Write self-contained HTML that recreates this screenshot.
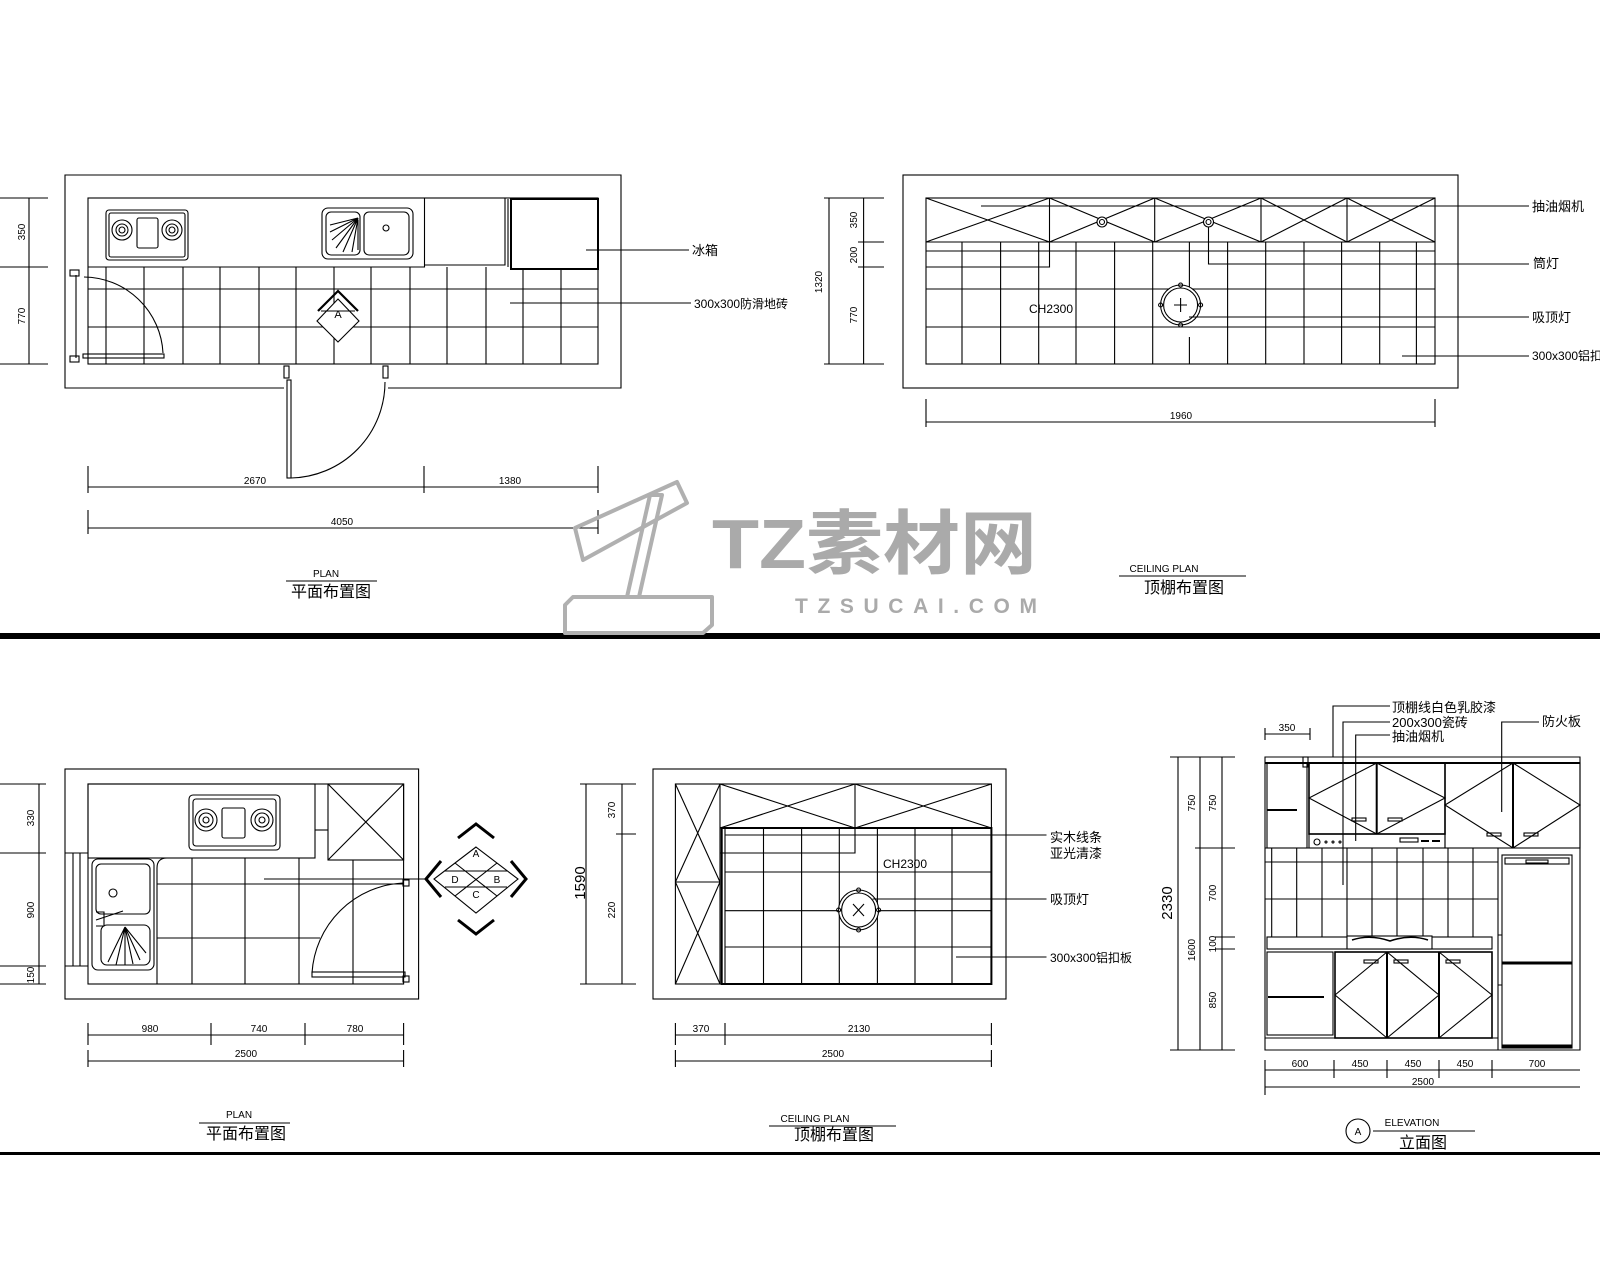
<!DOCTYPE html>
<html><head><meta charset="utf-8"><style>
html,body{margin:0;padding:0;background:#fff;}
svg{display:block;}
text{font-family:"Liberation Sans Narrow","Liberation Sans","Noto Sans CJK SC",sans-serif;fill:#000;}
.d{font-size:10px;}
.l{font-size:13px;}
</style></head><body>
<svg width="1600" height="1280" viewBox="0 0 1600 1280" xmlns="http://www.w3.org/2000/svg">
<g fill="none" stroke="#000" stroke-width="1.1">
<path d="M284,388 H65 V175 H621 V388 H388"/>
<rect x="88" y="198" width="510" height="166"/>
<path d="M88,267 H424.5 V198 M424.5,265 H505 V198"/>
<rect x="511" y="199" width="87" height="70" stroke-width="2"/>
<line x1="508" y1="199" x2="508" y2="267"/>
<g>
<line x1="106" y1="267" x2="106" y2="364"/><line x1="144" y1="267" x2="144" y2="364"/><line x1="183" y1="267" x2="183" y2="364"/><line x1="220" y1="267" x2="220" y2="364"/><line x1="259" y1="267" x2="259" y2="364"/><line x1="296" y1="267" x2="296" y2="364"/><line x1="334" y1="267" x2="334" y2="364"/><line x1="371" y1="267" x2="371" y2="364"/><line x1="410" y1="267" x2="410" y2="364"/><line x1="447" y1="267" x2="447" y2="364"/><line x1="486" y1="267" x2="486" y2="364"/><line x1="523" y1="269" x2="523" y2="364"/><line x1="561" y1="269" x2="561" y2="364"/>
<line x1="88" y1="289" x2="598" y2="289"/><line x1="88" y1="327" x2="598" y2="327"/>
</g>
<rect x="106" y="210" width="82" height="50" rx="3" fill="#fff"/>
<rect x="109" y="213" width="76" height="44" rx="2"/>
<circle cx="122" cy="230" r="10" fill="#fff"/><circle cx="122" cy="230" r="6"/><circle cx="122" cy="230" r="3"/>
<circle cx="172" cy="230" r="10" fill="#fff"/><circle cx="172" cy="230" r="6"/><circle cx="172" cy="230" r="3"/>
<rect x="137" y="218" width="21" height="30" rx="2"/>
<rect x="322" y="208" width="91" height="51" rx="6" fill="#fff"/>
<rect x="326" y="212" width="34" height="43" rx="5"/>
<rect x="364" y="212" width="45" height="43" rx="5"/>
<circle cx="386" cy="228" r="3"/>
<path d="M358,218 L330,225 M358,218 L330,232 M358,218 L332,240 M358,218 L336,248 M358,218 L343,252 M358,218 L352,252 M358,220 L358,250"/>
<line x1="76" y1="275" x2="76" y2="358"/>
<rect x="83" y="354" width="81" height="4"/>
<path d="M84,277 A80,80 0 0 1 163,353"/>
<rect x="70" y="270" width="9" height="6"/><rect x="70" y="356" width="9" height="6"/>
<rect x="287" y="380" width="4" height="98"/>
<path d="M291,478 A96,96 0 0 0 385,382"/>
<rect x="284" y="366" width="5" height="12"/><rect x="383" y="366" width="5" height="12"/>
<path d="M338,299 L359,321 L338,342 L317,321 Z" fill="#fff"/>
<line x1="321" y1="311" x2="355" y2="311"/>
<path d="M318,311 L338,291 L358,311" stroke-width="2.2"/>
<path d="M29,198 V364 M0,198 H48 M0,267 H48 M0,364 H48"/>
<path d="M88,487 H598 M88,466 V493 M424,466 V493 M598,466 V493"/>
<path d="M88,528 H598 M88,510 V534 M598,510 V534"/>
<path d="M586,250 H689 M510,303 H691"/>
<line x1="286" y1="581" x2="377" y2="581"/>

<rect x="903" y="175" width="555" height="213"/>
<rect x="926" y="198" width="509" height="166"/>
<path d="M926,242 H1435 M926,251 H1435 M926,289 H1435 M926,327 H1435"/>
<path d="M1049.5,198 V242 M1154.7,198 V242 M1261,198 V242 M1347,198 V242"/>
<path d="M926,198 L1049.5,242 M926,242 L1049.5,198 M1049.5,198 L1154.7,242 M1049.5,242 L1154.7,198 M1154.7,198 L1261,242 M1154.7,242 L1261,198 M1261,198 L1347,242 M1261,242 L1347,198 M1347,198 L1435,242 M1347,242 L1435,198"/>
<path d="M962,242 V364 M1000.6,242 V364 M1038.7,242 V364 M1076,242 V364 M1114.6,242 V364 M1152.7,242 V364 M1189.4,242 V289 M1189.4,337 V364 M1227.6,242 V364 M1265.7,242 V364 M1304,242 V364 M1341.6,242 V364 M1379.7,242 V364 M1416.4,242 V364"/>
<path d="M1049.5,242 V267 H926"/>
<circle cx="1180.6" cy="305" r="20" fill="#fff"/><circle cx="1180.6" cy="305" r="17"/>
<path d="M1174,305 H1187 M1180.6,298 V312"/>
<circle cx="1180.6" cy="285" r="2"/><circle cx="1180.6" cy="325" r="2"/><circle cx="1160.6" cy="305" r="2"/><circle cx="1200.6" cy="305" r="2"/>
<circle cx="1102" cy="222" r="5" fill="#fff"/><circle cx="1102" cy="222" r="2.5"/>
<circle cx="1208.5" cy="222" r="5" fill="#fff"/><circle cx="1208.5" cy="222" r="2.5"/>
<path d="M981,206 H1529 M1208.5,227 V264 H1529 M1189,317 H1529 M1402,356 H1529"/>
<path d="M829,198 V364 M863.6,198 V364 M824,198 H884 M824,364 H884 M858,242 H884 M858,267 H884"/>
<path d="M926,422 H1435 M926,399 V427 M1435,399 V427"/>
<line x1="1119" y1="576" x2="1246" y2="576"/>

<rect x="65" y="769" width="353.6" height="230"/>
<rect x="88" y="784" width="315.6" height="200"/>
<rect x="88" y="784" width="227" height="74"/>
<path d="M315,830 H328"/>
<rect x="328" y="784" width="75.6" height="76"/>
<path d="M328,784 L403.6,860 M403.6,784 L328,860"/>
<path d="M65,853 H88 M65,966 H88 M73,853 V966 M80,853 V966"/>
<path d="M157,984 V868 Q157,858 167,858 H315"/>
<path d="M192,858 V984 M245,858 V984 M299,858 V984 M353,860 V984 M157,884 H403.6 M157,938 H320"/>
<rect x="189" y="795" width="91" height="55" rx="4" fill="#fff"/>
<rect x="193" y="799" width="83" height="47" rx="3"/>
<circle cx="206" cy="820" r="11" fill="#fff"/><circle cx="206" cy="820" r="7"/><circle cx="206" cy="820" r="3"/>
<circle cx="262" cy="820" r="11" fill="#fff"/><circle cx="262" cy="820" r="7"/><circle cx="262" cy="820" r="3"/>
<rect x="222" y="808" width="23" height="30" rx="2"/>
<rect x="92" y="859" width="62" height="111" rx="6" fill="#fff"/>
<rect x="96" y="864" width="54" height="50" rx="5"/>
<rect x="101" y="925" width="49" height="40" rx="6"/>
<circle cx="113" cy="893" r="4"/>
<path d="M96,920 L123,911 M96,912 H104 V926 H96"/>
<path d="M125,927 L108,962 M125,927 L116,965 M125,927 L125,965 M125,927 L133,964 M125,927 L140,960 M125,927 L146,953"/>
<rect x="312" y="972" width="93" height="5"/>
<path d="M312,973 A96,96 0 0 1 403,883"/>
<rect x="403" y="880" width="6" height="6"/><rect x="403" y="976" width="6" height="6"/>
<line x1="264" y1="879" x2="428" y2="879"/>
<path d="M476,847 L518,879 L476,913 L434,879 Z" fill="#fff"/>
<path d="M455,863 L497,896 M497,863 L455,896 M445,871 H507 M445,887 H507"/>
<path d="M458,838 L476,824 L494,838 M511,861 L526,879 L511,897 M494,920 L476,934 L458,920 M441,861 L426,879 L441,897" stroke-width="3"/>
<path d="M39,784 V984 M0,784 H46 M0,853 H46 M0,966 H46 M0,984 H46"/>
<path d="M88,1035 H403.6 M88,1023 V1045 M211,1023 V1045 M305,1023 V1045 M403.6,1023 V1045"/>
<path d="M88,1061 H403.6 M88,1050 V1067 M403.6,1050 V1067"/>
<line x1="199" y1="1123" x2="290" y2="1123"/>

<rect x="653" y="769" width="353" height="230"/>
<rect x="675.4" y="784" width="316" height="200"/>
<path d="M720,784 V984 M675.4,882 H720"/>
<path d="M675.4,784 L720,882 M720,784 L675.4,882 M675.4,882 L720,984 M720,882 L675.4,984"/>
<path d="M720,828 H991.4 M855,784 V828"/>
<path d="M720,784 L855,828 M720,828 L855,784 M855,784 L991.4,828 M855,828 L991.4,784"/>
<rect x="721.7" y="828" width="269.7" height="156" stroke-width="2"/>
<path d="M725,828 V984 M763.5,828 V984 M801.6,828 V984 M839.3,828 V984 M877.4,828 V984 M915,828 V984 M952,828 V984"/>
<path d="M725,835 H991 M725,872 H991 M725,910.7 H991 M725,947 H991"/>
<path d="M855,828 V853 H720"/>
<circle cx="858.6" cy="910" r="20" fill="#fff"/><circle cx="858.6" cy="910" r="17"/>
<path d="M853,904 L864,916 M864,904 L853,916"/>
<circle cx="858.6" cy="890" r="2"/><circle cx="858.6" cy="930" r="2"/><circle cx="838.6" cy="910" r="2"/><circle cx="878.6" cy="910" r="2"/>
<path d="M989,835 H1046.5 M872.6,899 H1046.5 M956,957 H1046.5"/>
<path d="M586,784 V984 M622,784 V984 M580,784 H636 M580,984 H636 M616,834 H636"/>
<path d="M675.4,1035 H991.4 M675.4,1023 V1045 M725,1023 V1045 M991.4,1023 V1045"/>
<path d="M675.4,1061 H991.4 M675.4,1050 V1067 M991.4,1050 V1067"/>
<line x1="769" y1="1126" x2="896" y2="1126"/>

<path d="M1265,757 H1580 V1050 H1265 Z"/>
<line x1="1265" y1="763" x2="1580" y2="763" stroke-width="2"/>
<rect x="1267" y="763" width="40" height="85"/>
<path d="M1267,810 H1297" stroke-width="2"/>
<rect x="1303" y="757" width="5" height="10"/>
<rect x="1309" y="763" width="136" height="71" stroke-width="1.6"/>
<line x1="1376.7" y1="763" x2="1376.7" y2="834" stroke-width="2"/>
<path d="M1376.7,763 L1445,798 L1376.7,834 L1309,798 Z"/>
<rect x="1309" y="834" width="136" height="14"/>
<circle cx="1317" cy="842" r="3"/><circle cx="1326" cy="842" r="1"/><circle cx="1333" cy="842" r="1"/><circle cx="1340" cy="842" r="1"/>
<rect x="1400" y="838" width="18" height="4"/><path d="M1421,841 H1429 M1432,841 H1440" stroke-width="2"/>
<rect x="1352" y="818" width="14" height="3"/><rect x="1388" y="818" width="14" height="3"/>
<rect x="1445" y="763" width="135" height="85"/>
<line x1="1513" y1="763" x2="1513" y2="848" stroke-width="2"/>
<path d="M1513,763 L1580,805 L1513,848 L1445,805 Z"/>
<rect x="1487" y="833" width="14" height="3"/><rect x="1524" y="833" width="14" height="3"/>
<path d="M1265,848 H1580"/>
<path d="M1271.7,848 V937 M1296.7,848 V937 M1322,848 V937 M1347,848 V937 M1372,848 V937 M1397,848 V937 M1423,848 V937 M1448,848 V937 M1473,848 V937 M1498,848 V1050"/>
<path d="M1265,862 H1498 M1265,899 H1498"/>
<rect x="1267" y="937" width="225" height="12"/>
<rect x="1347" y="936" width="85" height="13" fill="#fff"/>
<path d="M1352,940 Q1370,934 1390,941 Q1410,934 1428,940" stroke-width="1.5"/>
<rect x="1267" y="952" width="66" height="83"/>
<path d="M1268,997 H1324" stroke-width="2"/>
<rect x="1335" y="952" width="157" height="86" stroke-width="1.6"/>
<path d="M1387,952 V1038 M1439,952 V1038" stroke-width="2"/>
<path d="M1387,952 L1335,995 L1387,1038 M1387,952 L1439,995 L1387,1038 M1439,952 L1492,995 L1439,1038"/>
<rect x="1364" y="960" width="14" height="3"/><rect x="1394" y="960" width="14" height="3"/><rect x="1446" y="960" width="14" height="3"/>
<path d="M1265,1038 H1498"/>
<rect x="1502" y="855" width="70" height="193"/>
<path d="M1502,963 H1572" stroke-width="3"/>
<path d="M1502,1046 H1572" stroke-width="3"/>
<rect x="1505" y="858" width="64" height="6"/>
<rect x="1526" y="860" width="22" height="3"/>
<path d="M1498,935 H1502 M1498,985 H1502"/>
<path d="M1178,757 V1050 M1200,757 V1050 M1222,757 V1050 M1170,757 H1235 M1170,1050 H1235 M1195,848 H1235 M1215,937 H1235 M1215,949 H1235"/>
<path d="M1265,734 H1310 M1265,728 V740 M1310,728 V740"/>
<path d="M1265,1070 H1580 M1265,1060 V1078 M1334,1060 V1078 M1387,1060 V1078 M1439,1060 V1078 M1492,1060 V1078"/>
<path d="M1265,1087 H1580 M1265,1078 V1095"/>
<path d="M1333,757 V706 H1390 M1343,885 V722 H1390 M1355.7,841 V735 H1390 M1501.7,812 V722 H1539"/>
<circle cx="1358" cy="1131" r="12"/>
<line x1="1373" y1="1131" x2="1475" y2="1131"/>
</g>
<rect x="0" y="633" width="1600" height="6" fill="#000"/>
<rect x="0" y="1152" width="1600" height="3" fill="#000"/>

<g fill="none" stroke="#b0b0b0" stroke-width="4" stroke-linejoin="round">
<path d="M565,605 L573,597 L712,597 L712,625 L703,633 L565,633 Z"/>
<path d="M627,597 L650,495 L662,495 L639,597"/>
<path d="M575,528 L677,482 L687,503 L583,560 Z"/>
</g>
<text x="712" y="568" textLength="325" lengthAdjust="spacingAndGlyphs" style="font-family:'Liberation Sans','Noto Sans CJK SC',sans-serif;font-size:70px;font-weight:bold;fill:#aaa">TZ素材网</text>
<text x="795" y="613" textLength="242" lengthAdjust="spacing" style="font-family:'Liberation Sans',sans-serif;font-size:21px;font-weight:bold;fill:#aaa">TZSUCAI.COM</text>

<g class="d">
<text x="25" y="232" transform="rotate(-90 25 232)" text-anchor="middle">350</text>
<text x="25" y="316" transform="rotate(-90 25 316)" text-anchor="middle">770</text>
<text x="255" y="484" text-anchor="middle">2670</text>
<text x="510" y="484" text-anchor="middle">1380</text>
<text x="342" y="525" text-anchor="middle">4050</text>
<text x="338" y="318" text-anchor="middle" style="font-size:11px">A</text>
<text x="326" y="577" text-anchor="middle">PLAN</text>
</g>
<text x="331" y="597" text-anchor="middle" style="font-size:16px">平面布置图</text>
<text class="l" x="692" y="255">冰箱</text>
<text class="l" x="694" y="308" style="font-size:12px">300x300防滑地砖</text>
<g class="d">
<text x="822" y="282" transform="rotate(-90 822 282)" text-anchor="middle">1320</text>
<text x="857" y="220" transform="rotate(-90 857 220)" text-anchor="middle">350</text>
<text x="857" y="255" transform="rotate(-90 857 255)" text-anchor="middle">200</text>
<text x="857" y="315" transform="rotate(-90 857 315)" text-anchor="middle">770</text>
<text x="1181" y="419" text-anchor="middle">1960</text>
<text x="1164" y="572" text-anchor="middle">CEILING PLAN</text>
</g>
<text x="1051" y="313" text-anchor="middle" style="font-size:12px">CH2300</text>
<text class="l" x="1532" y="211">抽油烟机</text>
<text class="l" x="1533" y="268">筒灯</text>
<text class="l" x="1532" y="322">吸顶灯</text>
<text class="l" x="1532" y="360" style="font-size:12px">300x300铝扣板</text>
<text x="1184" y="593" text-anchor="middle" style="font-size:16px">顶棚布置图</text>
<g class="d">
<text x="34" y="818" transform="rotate(-90 34 818)" text-anchor="middle">330</text>
<text x="34" y="910" transform="rotate(-90 34 910)" text-anchor="middle">900</text>
<text x="34" y="975" transform="rotate(-90 34 975)" text-anchor="middle">150</text>
<text x="150" y="1032" text-anchor="middle">980</text>
<text x="259" y="1032" text-anchor="middle">740</text>
<text x="355" y="1032" text-anchor="middle">780</text>
<text x="246" y="1057" text-anchor="middle">2500</text>
<text x="239" y="1118" text-anchor="middle">PLAN</text>
<text x="476" y="857" text-anchor="middle">A</text>
<text x="497" y="883" text-anchor="middle">B</text>
<text x="476" y="898" text-anchor="middle">C</text>
<text x="455" y="883" text-anchor="middle">D</text>
</g>
<text x="246" y="1139" text-anchor="middle" style="font-size:16px">平面布置图</text>
<g class="d">
<text x="615" y="810" transform="rotate(-90 615 810)" text-anchor="middle">370</text>
<text x="615" y="910" transform="rotate(-90 615 910)" text-anchor="middle">220</text>
<text x="701" y="1032" text-anchor="middle">370</text>
<text x="859" y="1032" text-anchor="middle">2130</text>
<text x="833" y="1057" text-anchor="middle">2500</text>
<text x="815" y="1122" text-anchor="middle">CEILING PLAN</text>
</g>
<text x="585" y="883" transform="rotate(-90 585 883)" text-anchor="middle" style="font-size:15px">1590</text>
<text x="905" y="868" text-anchor="middle" style="font-size:12px">CH2300</text>
<text class="l" x="1050" y="842">实木线条</text>
<text class="l" x="1050" y="858">亚光清漆</text>
<text class="l" x="1050" y="904">吸顶灯</text>
<text class="l" x="1050" y="962" style="font-size:12px">300x300铝扣板</text>
<text x="834" y="1140" text-anchor="middle" style="font-size:16px">顶棚布置图</text>
<g class="d">
<text x="1195" y="803" transform="rotate(-90 1195 803)" text-anchor="middle">750</text>
<text x="1216" y="803" transform="rotate(-90 1216 803)" text-anchor="middle">750</text>
<text x="1216" y="893" transform="rotate(-90 1216 893)" text-anchor="middle">700</text>
<text x="1216" y="944" transform="rotate(-90 1216 944)" text-anchor="middle">100</text>
<text x="1195" y="950" transform="rotate(-90 1195 950)" text-anchor="middle">1600</text>
<text x="1216" y="1000" transform="rotate(-90 1216 1000)" text-anchor="middle">850</text>
<text x="1287" y="731" text-anchor="middle">350</text>
<text x="1300" y="1067" text-anchor="middle">600</text>
<text x="1360" y="1067" text-anchor="middle">450</text>
<text x="1413" y="1067" text-anchor="middle">450</text>
<text x="1465" y="1067" text-anchor="middle">450</text>
<text x="1537" y="1067" text-anchor="middle">700</text>
<text x="1423" y="1085" text-anchor="middle">2500</text>
<text x="1358" y="1135" text-anchor="middle">A</text>
<text x="1412" y="1126" text-anchor="middle">ELEVATION</text>
</g>
<text x="1172" y="903" transform="rotate(-90 1172 903)" text-anchor="middle" style="font-size:15px">2330</text>
<text class="l" x="1392" y="712">顶棚线白色乳胶漆</text>
<text class="l" x="1392" y="727">200x300瓷砖</text>
<text class="l" x="1392" y="741">抽油烟机</text>
<text class="l" x="1542" y="726">防火板</text>
<text x="1423" y="1148" text-anchor="middle" style="font-size:16px">立面图</text>
</svg>
</body></html>
